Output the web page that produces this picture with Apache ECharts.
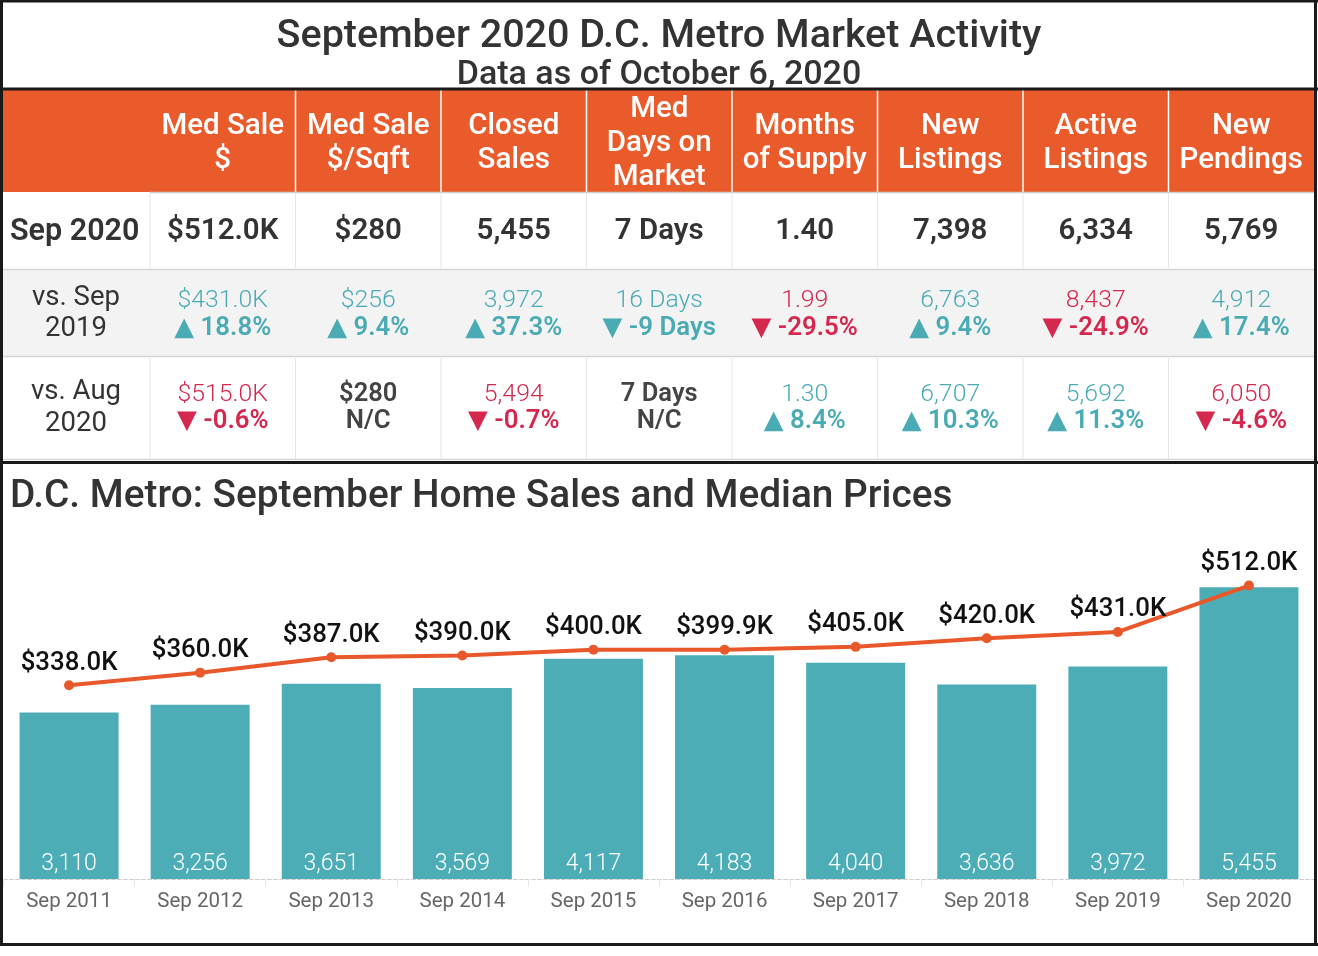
<!DOCTYPE html>
<html>
<head>
<meta charset="utf-8">
<script src="https://cdn.jsdelivr.net/npm/echarts@6/dist/echarts.min.js"></script>
<style>
html,body{margin:0;padding:0;background:#fff;}
#chart{width:1318px;height:956px;}
</style>
</head>
<body>
<div id="chart"></div>
<script>
// ---------- DATA ----------
const mainTitle = 'September 2020 D.C. Metro Market Activity';
const subTitle = 'Data as of October 6, 2020';
const headers = [
  ['Med Sale', '$'],
  ['Med Sale', '$/Sqft'],
  ['Closed', 'Sales'],
  ['Med', 'Days on', 'Market'],
  ['Months', 'of Supply'],
  ['New', 'Listings'],
  ['Active', 'Listings'],
  ['New', 'Pendings']
];
const currentLabel = 'Sep 2020';
const currentValues = ['$512.0K', '$280', '5,455', '7 Days', '1.40', '7,398', '6,334', '5,769'];

const yoyLabel = ['vs. Sep', '2019'];
const yoyPrev = ['$431.0K', '$256', '3,972', '16 Days', '1.99', '6,763', '8,437', '4,912'];
const yoyChange = ['▲ 18.8%', '▲ 9.4%', '▲ 37.3%', '▼ -9 Days', '▼ -29.5%', '▲ 9.4%', '▼ -24.9%', '▲ 17.4%'];
const yoyTone = ['good', 'good', 'good', 'good', 'bad', 'good', 'bad', 'good'];

const momLabel = ['vs. Aug', '2020'];
const momPrev = ['$515.0K', '$280', '5,494', '7 Days', '1.30', '6,707', '5,692', '6,050'];
const momChange = ['▼ -0.6%', 'N/C', '▼ -0.7%', 'N/C', '▲ 8.4%', '▲ 10.3%', '▲ 11.3%', '▼ -4.6%'];
const momTone = ['bad', 'flat', 'bad', 'flat', 'good', 'good', 'good', 'bad'];

const chartTitle = 'D.C. Metro: September Home Sales and Median Prices';
const years = ['Sep 2011', 'Sep 2012', 'Sep 2013', 'Sep 2014', 'Sep 2015', 'Sep 2016', 'Sep 2017', 'Sep 2018', 'Sep 2019', 'Sep 2020'];
const closedSales = [3110, 3256, 3651, 3569, 4117, 4183, 4040, 3636, 3972, 5455];
const medianPriceK = [338.0, 360.0, 387.0, 390.0, 400.0, 399.9, 405.0, 420.0, 431.0, 512.0];

// ---------- STYLE ----------
const FONT = 'Roboto, "Noto Sans", "DejaVu Sans", sans-serif';
const ORANGE = '#EA5B2B';
const TEAL = '#4DADB6';
const TEAL_TXT = '#4AABB5';
const RED = '#D5284E';
const DARK = '#333333';
const toneColor = t => t === 'good' ? TEAL_TXT : (t === 'bad' ? RED : '#444');

const els = [];
function txt(x, y, s, size, weight, color, align) {
  els.push({
    type: 'text', z: 10,
    style: {
      text: s, x: x, y: y + 3,
      fill: color, fontSize: size, fontWeight: weight, fontFamily: FONT,
      textAlign: align || 'center', textVerticalAlign: 'middle'
    }
  });
}
function rect(x, y, w, h, fill, z) {
  els.push({ type: 'rect', z: z || 1, shape: { x: x, y: y, width: w, height: h }, style: { fill: fill } });
}
function line(x1, y1, x2, y2, color, w, z) {
  els.push({ type: 'line', z: z || 2, shape: { x1: x1, y1: y1, x2: x2, y2: y2 }, style: { stroke: color, lineWidth: w } });
}

const colX0 = 150, colW = 145.5, R = 1314;
const cx = i => colX0 + colW * i + colW / 2;

// title box
txt(659, 34, mainTitle, 39.5, 500, DARK);
txt(659, 72, subTitle, 34, 500, DARK);

// header
rect(3, 90, R - 3, 102, ORANGE);
for (let i = 1; i < 8; i++) line(colX0 + colW * i, 90, colX0 + colW * i, 192, '#ffffff', 1.5);
headers.forEach((h, i) => {
  const lh = 34;
  const y0 = 141 - (h.length - 1) * lh / 2;
  h.forEach((s, k) => txt(cx(i), y0 + k * lh, s, 29.5, 500, '#ffffff'));
});

// rows backgrounds & lines
rect(3, 270, R - 3, 86, '#F3F3F3');
for (let i = 0; i < 8; i++) {
  line(colX0 + colW * i, 193, colX0 + colW * i, 268, '#E6E6E6', 1);
  line(colX0 + colW * i, 358, colX0 + colW * i, 459, '#E6E6E6', 1);
}
line(colX0, 192.5, R, 192.5, '#D0D0D0', 1.5);
line(3, 269.5, R, 269.5, '#D5D5D5', 1.5);
line(3, 356.5, R, 356.5, '#D5D5D5', 1.5);
line(3, 459.5, R, 459.5, '#D5D5D5', 1.5);

// row 1
txt(10, 229, currentLabel, 30.5, 600, DARK, 'left');
currentValues.forEach((v, i) => txt(cx(i), 229, v, 29.5, 600, DARK));

// row 2
txt(76, 295, yoyLabel[0], 27.5, 400, DARK);
txt(76, 326, yoyLabel[1], 27.5, 400, DARK);
yoyPrev.forEach((v, i) => txt(cx(i), 298, v, 24.8, 300, toneColor(yoyTone[i])));
yoyChange.forEach((v, i) => txt(cx(i), 326, v, 25.8, 600, toneColor(yoyTone[i])));

// row 3
txt(76, 389, momLabel[0], 27.5, 400, DARK);
txt(76, 421, momLabel[1], 27.5, 400, DARK);
momPrev.forEach((v, i) => txt(cx(i), 392, v, momTone[i] === 'flat' ? 25.5 : 24.8, momTone[i] === 'flat' ? 600 : 300, toneColor(momTone[i])));
momChange.forEach((v, i) => txt(cx(i), 419, v, 25.8, 600, toneColor(momTone[i])));

// chart title
txt(10, 494, chartTitle, 38.8, 500, DARK, 'left');

// frame
const FR = '#1a1a1a';
rect(0, 0, 1318, 2.5, FR, 20);
rect(0, 0, 3, 946, FR, 20);
rect(1314, 0, 3, 946, FR, 20);
rect(0, 87.5, 1318, 3, FR, 20);
rect(0, 461, 1318, 3, FR, 20);
rect(0, 943, 1318, 3, FR, 20);

// ---------- CHART ----------
const chart = echarts.init(document.getElementById('chart'), null, { renderer: 'canvas' });
chart.setOption({
  animation: false,
  backgroundColor: '#ffffff',
  textStyle: { fontFamily: FONT },
  graphic: { elements: els },
  grid: { left: 3.5, right: 3.5, top: 558, height: 321, containLabel: false },
  xAxis: {
    type: 'category',
    data: years,
    boundaryGap: true,
    axisLine: { show: true, lineStyle: { color: '#CFCFCF', type: 'dashed', width: 1 } },
    axisTick: { show: true, length: 8, lineStyle: { color: '#E6E6E6' } },
    axisLabel: { color: '#666', fontSize: 20.5, margin: 12, fontFamily: FONT }
  },
  yAxis: [
    { type: 'value', min: 0, max: 6000, show: false, splitLine: { show: false } },
    { type: 'value', min: 0, max: 560, show: false, splitLine: { show: false } }
  ],
  series: [
    {
      type: 'bar',
      data: closedSales,
      barWidth: '75.5%',
      itemStyle: { color: TEAL },
      label: {
        show: true, position: 'insideBottom', distance: 3,
        color: '#ffffff', fontSize: 23, fontWeight: 300, fontFamily: FONT,
        formatter: p => p.value.toLocaleString('en-US')
      },
      z: 2
    },
    {
      type: 'line',
      yAxisIndex: 1,
      data: medianPriceK,
      symbol: 'circle',
      symbolSize: 10,
      lineStyle: { color: '#E8582A', width: 4 },
      itemStyle: { color: '#E8582A' },
      label: {
        show: true, position: 'top', distance: 4,
        color: '#111', fontSize: 25.8, fontWeight: 500, fontFamily: FONT,
        formatter: p => '$' + p.value.toFixed(1) + 'K'
      },
      z: 3
    }
  ]
});
</script>
</body>
</html>
